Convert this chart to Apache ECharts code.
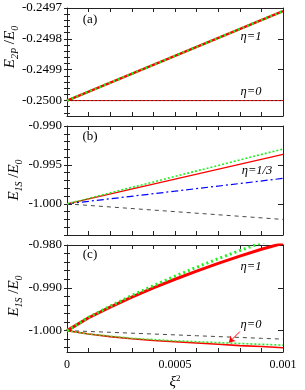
<!DOCTYPE html>
<html><head><meta charset="utf-8">
<script src="https://cdn.jsdelivr.net/npm/echarts@6/dist/echarts.min.js"></script>
<style>html,body{margin:0;padding:0;background:#fff}#c{width:305px;height:390px}</style>
</head><body><div id="c"></div>
<script>
// x axis
const xTickLabels = [0, 0.0005, 0.001];
// panel (a)
const xA = [0, 0.0005, 0.001];
const aEta1 = [-0.25, -0.249855, -0.24971];
const aEta0 = [-0.25, -0.25, -0.25];
const aMajor = [-0.25, -0.2499, -0.2498, -0.2497];
// panel (b)
const xB = [0, 0.0005, 0.001];
const bGreen = [-1.0, -0.99648, -0.99295];
const bRed = [-1.0, -0.99682, -0.99364];
const bBlue = [-1.0, -0.99837, -0.99673];
const bBlack = [-1.0, -1.001, -1.002];
const bMajor = [-1.0, -0.995, -0.99];
// panel (c)
const xC = [0, 0.0001, 0.0002, 0.0003, 0.0004, 0.0005, 0.0006, 0.0007, 0.0008, 0.0009, 0.001];
const cRed1 = [-1.0, -0.9970, -0.9945, -0.9922, -0.9900, -0.9880, -0.9861, -0.9843, -0.9826, -0.9810, -0.9796];
const cGreen1 = [-1.0, -0.9969, -0.9943, -0.9918, -0.9895, -0.9873, -0.9852, -0.9832, -0.9813, -0.9795, -0.9777];
const cRed0 = [-1.0, -1.0008, -1.0014, -1.0019, -1.0023, -1.0026, -1.0029, -1.0032, -1.0035, -1.0037, -1.0040];
const cGreen0 = [-1.0, -1.0008, -1.0013, -1.0018, -1.0021, -1.0024, -1.0026, -1.0028, -1.0030, -1.0032, -1.0034];
const cBlack = [-1.0, -1.0002, -1.0004, -1.0006, -1.0008, -1.0010, -1.0012, -1.0014, -1.0016, -1.0018, -1.0020];
const cMajor = [-1.0, -0.99, -0.98];
const cArrow = [[0.0008, -1.00024], [0.00075, -1.0028]];

function minorTicks(min, max, step) {
  const out = [];
  const start = Math.ceil(min / step - 1e-6);
  for (let k = start; k * step <= max + 1e-12; k++) out.push(+(k * step).toFixed(8));
  return out;
}

const panels = [
  { top: 8, height: 108, min: -0.25005, max: -0.2497, major: aMajor, step: 0.00002, dec: 4 },
  { top: 126, height: 109, min: -1.004, max: -0.99, major: bMajor, step: 0.001, dec: 3 },
  { top: 245, height: 107, min: -1.005, max: -0.98, major: cMajor, step: 0.002, dec: 3 }
];

const FONT = 'Liberation Serif';
const AX = '#222';
const grid = [], xAxis = [], yAxis = [];
panels.forEach((p, i) => {
  grid.push({ left: 67, right: 22, top: p.top, height: p.height });
  ['bottom', 'top'].forEach(pos => {
    xAxis.push({
      type: 'value', gridIndex: i, position: pos, min: 0, max: 0.001, interval: 0.0001,
      axisLine: { show: true, onZero: false, lineStyle: { color: AX, width: 1 } },
      axisTick: { show: true, inside: true, length: 4, lineStyle: { color: AX } },
      axisLabel: { show: (i === 2 && pos === 'bottom'), customValues: xTickLabels, margin: 7,
        color: '#000', fontFamily: FONT, fontSize: 12,
        formatter: v => (v === 0 ? '0' : String(v)) },
      splitLine: { show: false }
    });
  });
  const minors = minorTicks(p.min, p.max, p.step);
  ['left', 'right'].forEach(pos => {
    yAxis.push({
      type: 'value', gridIndex: i, position: pos, min: p.min, max: p.max,
      axisLine: { show: true, onZero: false, lineStyle: { color: AX, width: 1 } },
      axisTick: { show: true, inside: true, length: 5, customValues: p.major, lineStyle: { color: AX } },
      axisLabel: { show: pos === 'left', customValues: p.major, margin: 5, color: '#000',
        fontFamily: FONT, fontSize: 13, formatter: v => v.toFixed(p.dec) },
      splitLine: { show: false }
    });
    yAxis.push({
      type: 'value', gridIndex: i, position: pos, min: p.min, max: p.max,
      axisLine: { show: false },
      axisTick: { show: true, inside: true, length: 3, customValues: minors, lineStyle: { color: AX } },
      axisLabel: { show: false },
      splitLine: { show: false }
    });
  });
});

function pairs(xs, ys) { return xs.map((x, k) => [x, ys[k]]); }
function line(i, xs, ys, color, width, type, z) {
  return {
    type: 'line', xAxisIndex: i * 2, yAxisIndex: i * 4, data: pairs(xs, ys),
    showSymbol: false, symbol: 'none', silent: true, animation: false, z: z || 2,
    lineStyle: { color, width, type: type || 'solid' }
  };
}
const GREEN = '#22ee22', RED = '#ff0000', BLUE = '#0000ff', BLACK = '#333';
const series = [
  line(0, xA, aEta0, RED, 1, 'solid', 2),
  line(0, xA, aEta0, '#222', 0.8, [2, 2], 3),
  line(0, xA, aEta1, RED, 2.5, 'solid', 2),
  line(0, xA, aEta1, GREEN, 2.5, [2, 3], 3),
  line(1, xB, bBlack, BLACK, 0.9, [4, 4], 2),
  line(1, xB, bBlue, BLUE, 1.2, [7, 3, 2, 3], 2),
  line(1, xB, bRed, RED, 1.2, 'solid', 2),
  line(1, xB, bGreen, GREEN, 1.6, [2, 2], 3),
  line(2, xC, cBlack, BLACK, 0.9, [4, 4], 2),
  line(2, xC, cRed0, RED, 1.6, 'solid', 2),
  line(2, xC, cGreen0, GREEN, 1.6, [2, 2], 3),
  line(2, xC, cRed1, RED, 3, 'solid', 2),
  line(2, xC, cGreen1, GREEN, 3, [2, 3], 3)
];
series.push({
  type: 'line', xAxisIndex: 4, yAxisIndex: 8, data: [], silent: true, animation: false,
  markLine: { silent: true, symbol: ['none', 'arrow'], symbolSize: 6, label: { show: false },
    lineStyle: { color: RED, width: 1, type: 'solid' },
    data: [[{ coord: cArrow[0] }, { coord: cArrow[1] }]] }
});

function txt(x, y, text, size, italic, extra) {
  return Object.assign({ type: 'text', x, y, z: 100,
    style: { text, fill: '#000', font: (italic ? 'italic ' : '') + size + 'px "' + FONT + '"',
      align: 'center', verticalAlign: 'middle' } }, extra || {});
}
const richY = {
  i: { fontFamily: FONT, fontStyle: 'italic', fontSize: 15, fill: '#000', verticalAlign: 'middle', lineHeight: 20 },
  n: { fontFamily: FONT, fontSize: 15, fill: '#000', verticalAlign: 'middle', lineHeight: 20 },
  s: { fontFamily: FONT, fontStyle: 'italic', fontSize: 10, fill: '#000', verticalAlign: 'bottom', lineHeight: 10 }
};
function ylab(x, y, sub) {
  return { type: 'text', x, y, rotation: Math.PI / 2, z: 100,
    style: { text: '{i|E}{s|' + sub + '}{n| /}{i|E}{s|0}', rich: richY, align: 'center', verticalAlign: 'middle' } };
}
const graphic = [
  txt(90, 20, '(a)', 13), txt(90, 137, '(b)', 13), txt(90, 255, '(c)', 13),
  txt(251, 37, 'η=1', 12.5, true), txt(251, 92, 'η=0', 12.5, true),
  txt(257, 171, 'η=1/3', 12.5, true),
  txt(251, 267, 'η=1', 12.5, true), txt(251, 325, 'η=0', 12.5, true),
  ylab(10, 47, '2P'), ylab(14, 180, '1S'), ylab(14, 296, '1S'),
  { type: 'text', x: 175, y: 382, z: 100,
    style: { text: '{i|ξ}{p|2}', align: 'center', verticalAlign: 'middle',
      rich: { i: { fontFamily: FONT, fontStyle: 'italic', fontSize: 15, fill: '#000', lineHeight: 16 },
              p: { fontFamily: FONT, fontSize: 9, fill: '#000', verticalAlign: 'top', lineHeight: 16 } } } }
];

const chart = echarts.init(document.getElementById('c'), null, { renderer: 'canvas' });
chart.setOption({ animation: false, backgroundColor: '#fff', grid, xAxis, yAxis, series, graphic });
</script></body></html>
